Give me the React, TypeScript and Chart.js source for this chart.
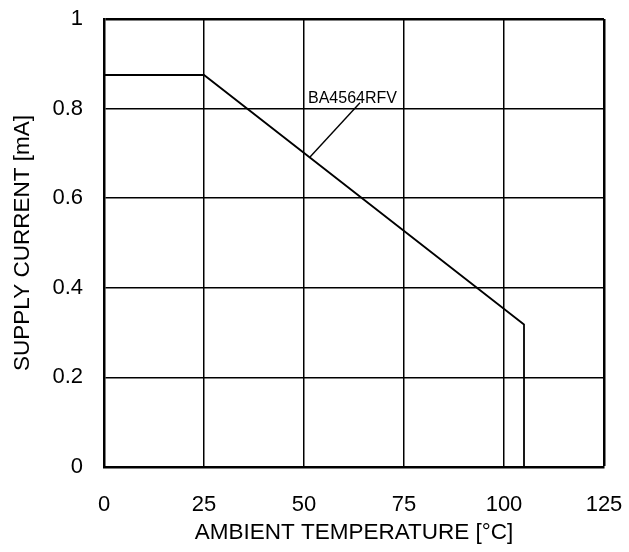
import React, { useEffect, useRef } from "react";
import { Chart, registerables } from "chart.js";

Chart.register(...registerables);

// Data
const TEMP = [0, 25, 105, 105];
const CURRENT = [0.875, 0.875, 0.318, 0];
const LEADER_X = [51.5, 64];
const LEADER_Y = [0.692, 0.813];
const LABEL_TEXT = "BA4564RFV";
const LABEL_AT = { x: 51, y: 0.8125 };
const X_TICKS = [0, 25, 50, 75, 100, 125];
const Y_TICKS = [0, 0.2, 0.4, 0.6, 0.8, 1];

const FONT = "'Liberation Sans', Arial, sans-serif";

const labelPlugin = {
  id: "partLabel",
  afterDatasetsDraw(chart: any) {
    const { ctx, scales } = chart;
    const px = scales.x.getPixelForValue(LABEL_AT.x);
    const py = scales.y.getPixelForValue(LABEL_AT.y);
    ctx.save();
    ctx.font = `16px ${FONT}`;
    ctx.fillStyle = "#000";
    ctx.textAlign = "left";
    ctx.textBaseline = "alphabetic";
    ctx.fillText(LABEL_TEXT, px, py);
    ctx.restore();
  },
};

export default function App() {
  const ref = useRef<HTMLCanvasElement>(null);
  useEffect(() => {
    if (!ref.current) return;
    const chart = new Chart(ref.current, {
      type: "line",
      data: {
        datasets: [
          {
            data: TEMP.map((x, i) => ({ x, y: CURRENT[i] })),
            borderColor: "#000",
            borderWidth: 1.8,
            pointRadius: 0,
            tension: 0,
            fill: false,
          },
          {
            data: LEADER_X.map((x, i) => ({ x, y: LEADER_Y[i] })),
            borderColor: "#000",
            borderWidth: 1.4,
            pointRadius: 0,
            tension: 0,
            fill: false,
          },
        ],
      },
      options: {
        responsive: false,
        animation: false,
        layout: { padding: { left: 0, top: 19, right: 25, bottom: 0 } },
        plugins: { legend: { display: false }, tooltip: { enabled: false } },
        scales: {
          x: {
            type: "linear",
            min: 0,
            max: 125,
            afterBuildTicks: (s: any) => {
              s.ticks = X_TICKS.map((v) => ({ value: v }));
            },
            afterFit: (s: any) => {
              s.height = 85;
              s.paddingLeft = 0;
              s.paddingRight = 0;
            },
            ticks: {
              color: "#000",
              font: { family: FONT, size: 22 },
              padding: 25,
              maxRotation: 0,
            },
            grid: {
              color: "#000",
              lineWidth: (c: any) => (c.tick && c.tick.value === 125 ? 2.5 : 1.5),
              drawTicks: false,
            },
            border: { display: true, color: "#000", width: 2.5 },
            title: {
              display: true,
              text: "AMBIENT TEMPERATURE [°C]",
              color: "#000",
              font: { family: FONT, size: 22.5 },
              padding: { top: 0, bottom: 6 },
            },
          },
          y: {
            type: "linear",
            min: 0,
            max: 1,
            afterBuildTicks: (s: any) => {
              s.ticks = Y_TICKS.map((v) => ({ value: v }));
            },
            afterFit: (s: any) => {
              s.width = 104;
              s.paddingTop = 0;
              s.paddingBottom = 0;
            },
            ticks: {
              color: "#000",
              font: { family: FONT, size: 22 },
              padding: 21,
              callback: (v: any) => String(v),
            },
            grid: {
              color: "#000",
              lineWidth: (c: any) => (c.tick && c.tick.value === 1 ? 2.5 : 1.5),
              drawTicks: false,
            },
            border: { display: true, color: "#000", width: 2.5 },
            title: {
              display: true,
              text: "SUPPLY CURRENT [mA]",
              color: "#000",
              font: { family: FONT, size: 22.5 },
              padding: { top: 9, bottom: 0 },
            },
          },
        },
      },
      plugins: [labelPlugin],
    } as any);
    return () => chart.destroy();
  }, []);
  return (
    <div style={{ position: "fixed", left: 0, top: 0, width: 629, height: 552, background: "#fff" }}>
      <canvas ref={ref} width={629} height={552} style={{ display: "block" }} />
    </div>
  );
}
